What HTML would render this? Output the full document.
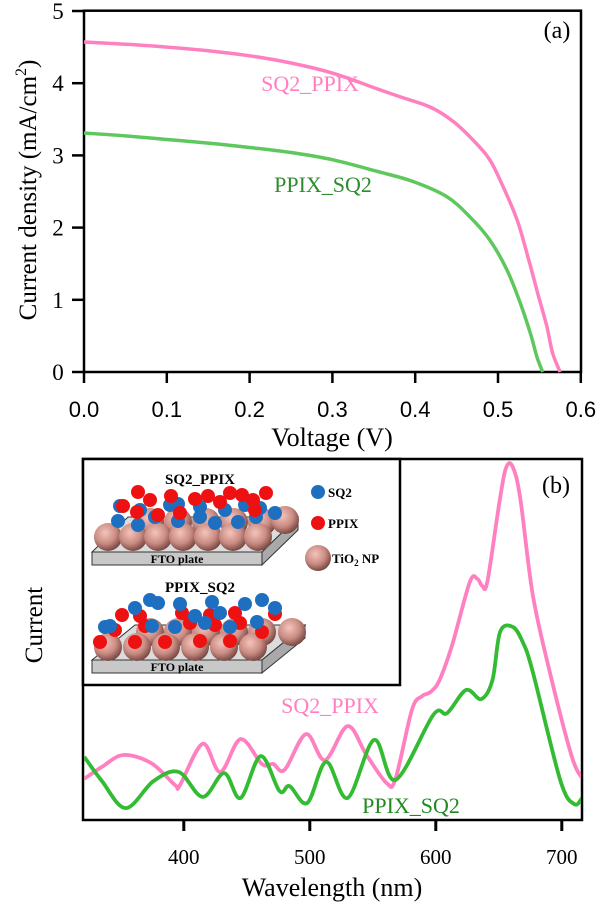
<!DOCTYPE html>
<html><head><meta charset="utf-8">
<style>
html,body{margin:0;padding:0;background:#fff;}
svg{display:block;}
.ar{font-family:"Liberation Sans",sans-serif;}
.tm{font-family:"Liberation Serif",serif;}
</style></head>
<body>
<svg id="fig" width="600" height="909" viewBox="0 0 600 909" xmlns="http://www.w3.org/2000/svg">
<defs>
<radialGradient id="tio2" cx="0.4" cy="0.35" r="0.65">
<stop offset="0" stop-color="#f4c4bc"/><stop offset="0.6" stop-color="#c98b82"/><stop offset="1" stop-color="#7a4a44"/>
</radialGradient>
</defs>
<g id="pa"></g>
<g id="pb"></g>
</svg>
<script>
// ---- Panel (a) data ----
const vPink = [0,0.05,0.1,0.15,0.2,0.25,0.3,0.357,0.382,0.418,0.446,0.47,0.49,0.506,0.523,0.536,0.548,0.559,0.566,0.575];
const jPink = [4.57,4.54,4.50,4.45,4.38,4.28,4.14,3.91,3.81,3.67,3.47,3.21,2.94,2.57,2.11,1.60,1.09,0.63,0.26,0];
const vGreen = [0,0.05,0.1,0.15,0.2,0.25,0.3,0.357,0.397,0.438,0.466,0.49,0.511,0.527,0.539,0.547,0.554];
const jGreen = [3.31,3.27,3.22,3.17,3.11,3.04,2.94,2.77,2.64,2.43,2.15,1.83,1.41,0.95,0.54,0.21,0];
const aXTicks = ["0.0","0.1","0.2","0.3","0.4","0.5","0.6"];
const aYTicks = ["0","1","2","3","4","5"];
// ---- Panel (b) data ----
const wlPink = [321,335,352,374,393,397,415,429,445,462,471,480,497,512,530,545,561,568,581,589,596,603,613,627,633,637,641,651,656,661,667,677,691,708,716];
const curPink = [11.4,14.7,18.0,15.8,9.7,9.7,21.1,13.3,22.4,15.5,15.5,13.9,23.8,16.6,26.0,18.0,10.2,11.4,30.5,34.3,35.5,38.8,48.5,65.9,66.8,64.8,66.2,89.2,97.8,97.8,89.2,62.3,40.2,17.5,11.6];
const wlGreen = [321,335,354,376,396,415,432,445,461,476,484,498,513,530,551,568,598,609,624,636,645,651,661,669,677,699,710,716];
const curGreen = [17.5,10.8,3.3,10.8,13.3,6.4,13.0,6.1,17.7,8.0,9.4,4.7,16.1,6.1,22.2,11.1,29.1,29.6,36.0,33.5,38.8,52.1,53.5,49.3,41.0,10.8,4.4,6.1];
const bXTicks = [400,500,600,700];

const NS="http://www.w3.org/2000/svg";
function mk(parent,tag,attrs,text){const e=document.createElementNS(NS,tag);for(const k in attrs)e.setAttribute(k,attrs[k]);if(text!==undefined)e.textContent=text;parent.appendChild(e);return e;}

const ax=v=>84+v*828, ay=j=>372-j*72.2;
const pa=document.getElementById('pa');
let e;
e=mk(pa,'rect',{x:84,y:10.7,width:497,height:361.3,fill:'none',stroke:'#000','stroke-width':2.5});


aXTicks.forEach((t,i)=>{const x=ax(i*0.1);
 e=mk(pa,'line',{x1:x,x2:x,y1:372,y2:383,stroke:'#000','stroke-width':2.5});
 
 
 e=mk(pa,'text',{x:x,y:417,'text-anchor':'middle','font-size':22,class:'ar'},t);
 
 });
aYTicks.forEach((t,i)=>{const y=ay(i);
 e=mk(pa,'line',{x1:72,x2:84,y1:y,y2:y,stroke:'#000','stroke-width':2.5});
 
 
 e=mk(pa,'text',{x:58,y:y+8,'text-anchor':'middle','font-size':23,class:'tm'},t);
 
 });
function poly(parent,xs,ys,fx,fy,color,w,name,smooth){
 const P=xs.map((v,i)=>[fx(v),fy(ys[i])]);
 let d='M'+P[0][0].toFixed(1)+','+P[0][1].toFixed(1);
 for(let i=0;i<P.length-1;i++){
  if(!smooth){d+=' L'+P[i+1][0].toFixed(1)+','+P[i+1][1].toFixed(1);continue;}
  const p0=P[Math.max(0,i-1)],p1=P[i],p2=P[i+1],p3=P[Math.min(P.length-1,i+2)];
  const c1=[p1[0]+(p2[0]-p0[0])/6,p1[1]+(p2[1]-p0[1])/6];
  const c2=[p2[0]-(p3[0]-p1[0])/6,p2[1]-(p3[1]-p1[1])/6];
  d+=' C'+c1.map(n=>n.toFixed(1)).join(',')+' '+c2.map(n=>n.toFixed(1)).join(',')+' '+p2.map(n=>n.toFixed(1)).join(',');
 }
 const p=mk(parent,'path',{d:d,fill:'none',stroke:color,'stroke-width':w,'stroke-linejoin':'round'});
 
 
}
poly(pa,vPink,jPink,ax,ay,'#ff80c0',3.5,'sq2-ppix-jv-curve',true);
poly(pa,vGreen,jGreen,ax,ay,'#5ec85e',3.5,'ppix-sq2-jv-curve',true);
e=mk(pa,'text',{x:310,y:91,'text-anchor':'middle','font-size':22,fill:'#ff80c0',class:'tm'},'SQ2_PPIX');


e=mk(pa,'text',{x:323,y:192,'text-anchor':'middle','font-size':22,fill:'#2e8b2e',class:'tm'},'PPIX_SQ2');


e=mk(pa,'text',{x:557,y:38,'text-anchor':'middle','font-size':24,class:'tm'},'(a)');


e=mk(pa,'text',{x:332,y:446,'text-anchor':'middle','font-size':26,class:'tm'},'Voltage (V)');


e=mk(pa,'text',{transform:'translate(36,190) rotate(-90)','text-anchor':'middle','font-size':25,class:'tm'});
e.innerHTML='Current density (mA/cm<tspan dy="-10" font-size="16">2</tspan><tspan dy="10">)</tspan>';



const bx=w=>83+(w-320)*1.26, by=v=>820-v*3.61;
const pb=document.getElementById('pb');
e=mk(pb,'rect',{x:83,y:459,width:499,height:361,fill:'none',stroke:'#000','stroke-width':2.5});


bXTicks.forEach(t=>{const x=bx(t);
 e=mk(pb,'line',{x1:x,x2:x,y1:820,y2:831,stroke:'#000','stroke-width':3});
 
 
 e=mk(pb,'text',{x:x,y:864,'text-anchor':'middle','font-size':21,class:'tm'},String(t));
 
 });
const clip=mk(pb,'clipPath',{id:'cb'});mk(clip,'rect',{x:84,y:440,width:497,height:380});
const lines=mk(pb,'g',{'clip-path':'url(#cb)'});
poly(lines,wlPink,curPink,bx,by,'#ff80c0',3.8,'sq2-ppix-current-curve',true);
poly(lines,wlGreen,curGreen,bx,by,'#33bb33',3.8,'ppix-sq2-current-curve',true);
e=mk(pb,'text',{x:330,y:713,'text-anchor':'middle','font-size':22,fill:'#ff80c0',class:'tm'},'SQ2_PPIX');


e=mk(pb,'text',{x:411,y:813,'text-anchor':'middle','font-size':22,fill:'#1f8a1f',class:'tm'},'PPIX_SQ2');


e=mk(pb,'text',{x:556,y:493,'text-anchor':'middle','font-size':24,class:'tm'},'(b)');


e=mk(pb,'text',{x:332,y:896,'text-anchor':'middle','font-size':26,class:'tm'},'Wavelength (nm)');


e=mk(pb,'text',{transform:'translate(42,625) rotate(-90)','text-anchor':'middle','font-size':25,class:'tm'},'Current');



const ins=mk(pb,'g',{});


mk(ins,'rect',{x:83,y:459,width:317,height:226,fill:'#fff',stroke:'#000','stroke-width':2.5});
function plate(yf,xr){
 mk(ins,'polygon',{points:`92,${yf} 262,${yf} ${xr},${yf-35} ${xr-170},${yf-35}`,fill:'#dcdcdc',stroke:'#333','stroke-width':1});
 mk(ins,'polygon',{points:`262,${yf} ${xr},${yf-35} ${xr},${yf-22} 262,${yf+13}`,fill:'#a9a9a9',stroke:'#333','stroke-width':1});
 mk(ins,'rect',{x:92,y:yf,width:170,height:13,fill:'#c8c8c8',stroke:'#333','stroke-width':1});
 mk(ins,'text',{x:177,y:yf+11,'text-anchor':'middle','font-size':12,'font-weight':'bold',class:'tm'},'FTO plate');
}
function sph(x,y,r,fill){mk(ins,'circle',{cx:x,cy:y,r:r,fill:fill});}
plate(552,298);
[[150,522],[178,522],[206,522],[234,522],[262,522],[285,520]].forEach(p=>sph(p[0],p[1],14,'url(#tio2)'));
[[108,537],[133,537],[158,537],[183,537],[208,537],[233,537],[258,537]].forEach(p=>sph(p[0],p[1],14,'url(#tio2)'));
[[118,521],[138,525],[155,517],[178,521],[200,517],[215,523],[238,522],[256,517],[275,513],[140,510],[170,505],[200,507],[225,510],[245,505],[260,508],[178,504],[120,506]].forEach(p=>sph(p[0],p[1],7,'#1f6fc0'));
[[138,492],[123,506],[150,500],[171,496],[180,513],[195,499],[208,496],[220,502],[230,493],[242,495],[253,500],[266,493],[255,510],[137,512],[158,515]].forEach(p=>sph(p[0],p[1],7,'#ee1111'));
mk(ins,'text',{x:200,y:484,'text-anchor':'middle','font-size':15,'font-weight':'bold',class:'tm'},'SQ2_PPIX');
plate(660,305);
[[150,632],[178,632],[206,632],[234,632],[262,632],[292,632]].forEach(p=>sph(p[0],p[1],14,'url(#tio2)'));
[[108,647],[137,647],[166,647],[195,647],[224,647],[253,647]].forEach(p=>sph(p[0],p[1],14,'url(#tio2)'));
[[100,642],[135,642],[165,642],[200,641],[230,641],[262,632],[115,630],[145,626],[190,623],[215,625],[240,623],[122,615],[140,616],[182,613],[210,615],[235,613],[275,614]].forEach(p=>sph(p[0],p[1],7,'#ee1111'));
[[110,626],[135,608],[152,626],[158,603],[180,604],[175,627],[195,616],[205,623],[220,613],[230,627],[245,604],[257,622],[262,600],[275,608],[212,602],[105,627],[150,600]].forEach(p=>sph(p[0],p[1],7,'#1f6fc0'));
mk(ins,'text',{x:200,y:592,'text-anchor':'middle','font-size':15,'font-weight':'bold',class:'tm'},'PPIX_SQ2');
sph(318,492,7,'#1f6fc0');
mk(ins,'text',{x:328,y:497,'font-size':13,'font-weight':'bold',class:'tm'},'SQ2');
sph(318,523,7,'#ee1111');
mk(ins,'text',{x:328,y:528,'font-size':13,'font-weight':'bold',class:'tm'},'PPIX');
sph(318,558,13,'url(#tio2)');
e=mk(ins,'text',{x:332,y:563,'font-size':13,'font-weight':'bold',class:'tm'});
e.innerHTML='TiO<tspan font-size="9" dy="3">2</tspan><tspan dy="-3"> NP</tspan>';
</script>
</body></html>
